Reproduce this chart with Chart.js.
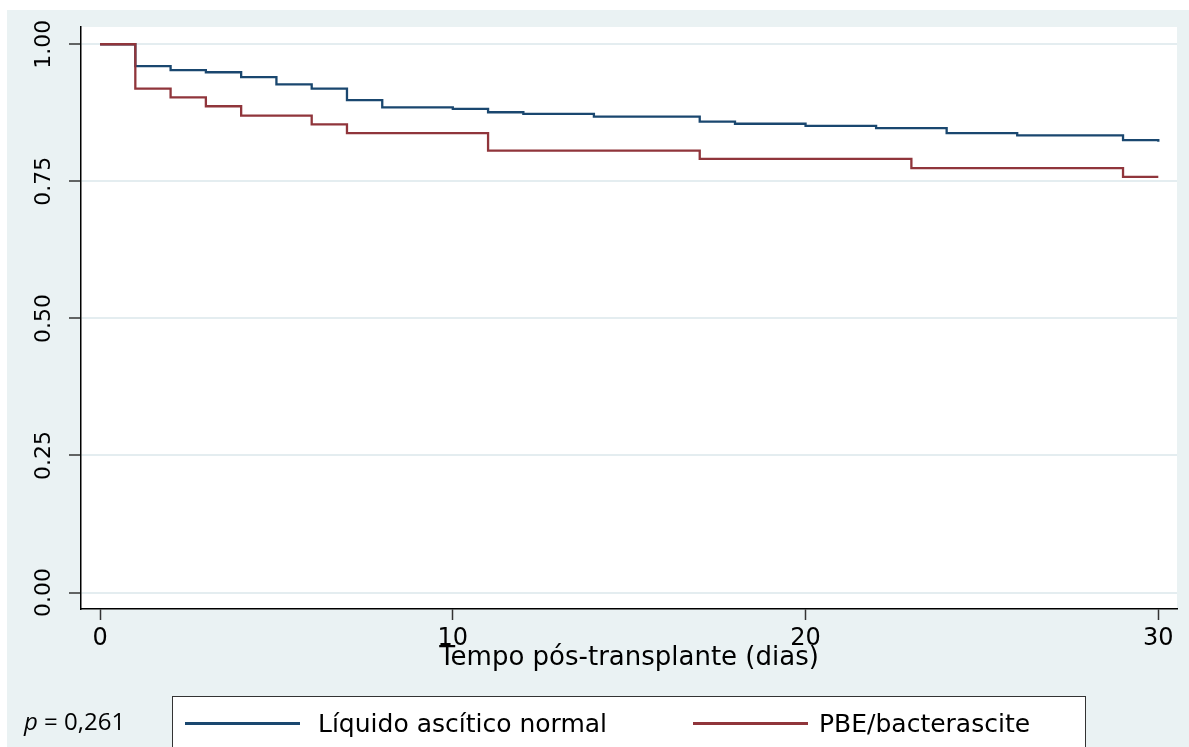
<!DOCTYPE html>
<html>
<head>
<meta charset="utf-8">
<script src="https://cdn.jsdelivr.net/npm/chart.js@4.4.1/dist/chart.umd.min.js"></script>
<style>
  html, body { margin: 0; padding: 0; background: #fff; width: 1189px; height: 747px; overflow: hidden; }
  #bg { position: absolute; left: 7px; top: 10px; right: 0; bottom: 0; background: #eaf2f3; }
  #wrap { position: absolute; left: 0; top: 0; width: 1189px; height: 747px; }
  #legend {
    position: absolute; left: 172px; top: 696px; width: 914px; height: 70px;
    background: #fff; border: 1.5px solid #333; box-sizing: border-box;
    font-family: "DejaVu Sans", sans-serif; font-size: 25px; color: #000;
  }
  .item { position: absolute; top: 12px; height: 30px; line-height: 30px; white-space: nowrap; }
  .swatch { position: absolute; top: 13px; width: 115px; height: 2.5px; }
  .txt { position: absolute; top: 0; }
  #pval {
    position: absolute; left: 24px; top: 704px;
    font-family: "Open Sans", sans-serif; font-size: 24px; color: #000;
  }
</style>
</head>
<body>
<div id="bg"></div>
<div id="wrap"><canvas id="km" width="1189" height="747"></canvas></div>
<div id="legend"></div>
<div id="pval"><i>p</i> = 0,261</div>
<script>
// Kaplan-Meier steps
const normalDays = [0, 1, 2, 3, 4, 5, 6, 7, 8, 10, 11, 12, 14, 17, 18, 20, 22, 24, 26, 29, 30];
const normalSurv = [1, 0.960, 0.953, 0.949, 0.940, 0.927, 0.919, 0.898, 0.885, 0.882, 0.876, 0.873, 0.868, 0.859, 0.855, 0.851, 0.847, 0.838, 0.834, 0.825, 0.822];

const pbeDays = [0, 1, 2, 3, 4, 6, 7, 11, 17, 23, 29, 30];
const pbeSurv = [1, 0.919, 0.903, 0.887, 0.870, 0.854, 0.838, 0.806, 0.791, 0.774, 0.758, 0.758];

const seriesNames = ["Líquido ascítico normal", "PBE/bacterascite"];
const seriesColors = ["#1a476f", "#90353b"];

const xTicks = [0, 10, 20, 30];
const yTicks = [0, 0.25, 0.5, 0.75, 1];
const xTitle = "Tempo pós-transplante (dias)";

const toPoints = (days, surv) => days.map((d, i) => ({ x: d, y: surv[i] }));

// white plot region on top of the grey backdrop
const plotBg = {
  id: "plotBg",
  beforeDraw(chart) {
    const { ctx, chartArea: a } = chart;
    ctx.save();
    ctx.fillStyle = "#fff";
    ctx.fillRect(a.left, a.top, a.right - a.left, a.bottom - a.top);
    ctx.restore();
  },
};

// vertical y tick labels (Stata style)
const yLabels = {
  id: "yLabels",
  afterDraw(chart) {
    const { ctx, scales: { y } } = chart;
    ctx.save();
    ctx.font = '22px "DejaVu Sans"';
    ctx.fillStyle = "#000";
    ctx.textAlign = "center";
    ctx.textBaseline = "middle";
    y.ticks.forEach((t) => {
      ctx.save();
      ctx.translate(y.right - 37, y.getPixelForValue(t.value));
      ctx.rotate(-Math.PI / 2);
      ctx.fillText(t.value.toFixed(2), 0, 0);
      ctx.restore();
    });
    ctx.restore();
  },
};

Chart.defaults.font.family = '"DejaVu Sans", sans-serif';
Chart.defaults.color = "#000";

const chart = new Chart(document.getElementById("km"), {
  type: "line",
  data: {
    datasets: [
      {
        label: seriesNames[0],
        data: toPoints(normalDays, normalSurv),
        borderColor: seriesColors[0],
        borderWidth: 2.3,
        stepped: "before",
        pointRadius: 0,
        fill: false,
        order: 1,
      },
      {
        label: seriesNames[1],
        data: toPoints(pbeDays, pbeSurv),
        borderColor: seriesColors[1],
        borderWidth: 2.3,
        stepped: "before",
        pointRadius: 0,
        fill: false,
        order: 0,
      },
    ],
  },
  options: {
    responsive: false,
    animation: false,
    layout: { padding: { left: 0, top: 27, right: 12, bottom: 73 } },
    plugins: { legend: { display: false }, tooltip: { enabled: false } },
    scales: {
      x: {
        type: "linear",
        min: -0.54,
        max: 30.53,
        afterBuildTicks: (s) => { s.ticks = xTicks.map((v) => ({ value: v })); },
        afterFit: (s) => { s.height = 65; },
        ticks: { font: { size: 24 }, padding: 4, maxRotation: 0 },
        grid: { drawOnChartArea: false, drawTicks: true, tickLength: 11, tickColor: "#333", tickWidth: 1.5 },
        border: { display: true, color: "#000", width: 1.5 },
        title: { display: true, text: xTitle, font: { size: 26 }, padding: 0 },
      },
      y: {
        min: -0.03,
        max: 1.0315,
        afterBuildTicks: (s) => { s.ticks = yTicks.map((v) => ({ value: v })); },
        afterFit: (s) => { s.width = 81; },
        ticks: { display: false },
        grid: { color: "#e4edf0", lineWidth: 2, drawTicks: true, tickLength: 12, tickColor: "#333", tickWidth: 1.5 },
        border: { display: true, color: "#000", width: 1.5 },
      },
    },
  },
  plugins: [plotBg, yLabels],
});

// legend box below the chart
const legend = document.getElementById("legend");
const itemLeft = [12, 520];
const textLeft = [133, 126];
chart.data.datasets.forEach((ds, i) => {
  const item = document.createElement("div");
  item.className = "item";
  item.style.left = itemLeft[i] + "px";
  item.innerHTML = '<div class="swatch" style="background:' + ds.borderColor + '"></div><span class="txt" style="left:' + textLeft[i] + 'px">' + ds.label + "</span>";
  legend.appendChild(item);
});
</script>
</body>
</html>
